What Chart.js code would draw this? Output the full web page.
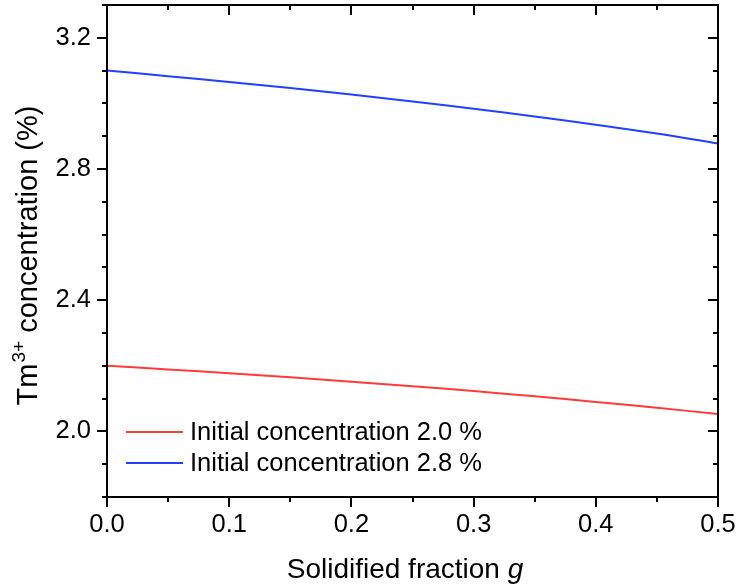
<!DOCTYPE html>
<html>
<head>
<meta charset="utf-8">
<title>Tm3+ concentration vs solidified fraction</title>
<script src="https://cdn.jsdelivr.net/npm/chart.js@4"></script>
<style>
  html, body { margin: 0; padding: 0; background: #ffffff; }
  canvas { display: block; }
</style>
</head>
<body>
<canvas id="chart" width="737" height="585"></canvas>
<script>
// Solidified fraction g
const fraction = [0.00, 0.05, 0.10, 0.15, 0.20, 0.25, 0.30, 0.35, 0.40, 0.45, 0.50];
// Tm3+ concentration (%) along the crystal
const conc20 = [2.200, 2.189, 2.177, 2.165, 2.151, 2.138, 2.123, 2.107, 2.090, 2.072, 2.053];
const conc28 = [3.100, 3.083, 3.065, 3.047, 3.027, 3.006, 2.984, 2.960, 2.935, 2.908, 2.878];
const seriesNames = ['Initial concentration 2.0 %', 'Initial concentration 2.8 %'];
const yTickValues = [2.0, 2.4, 2.8, 3.2];
const xTickValues = [0.0, 0.1, 0.2, 0.3, 0.4, 0.5];

const FONT = '"Liberation Sans", Arial, Helvetica, sans-serif';
const RED = '#ff3b3b';
const BLUE = '#2141ff';

const toPoints = (xs, ys) => xs.map((x, i) => ({ x: x, y: ys[i] }));

// Frame, major/minor ticks on all four sides, axis titles and legend
const decorations = {
  id: 'decorations',
  afterDraw(chart) {
    const ctx = chart.ctx;
    const a = chart.chartArea;
    const xs = chart.scales.x;
    const ys = chart.scales.y;
    ctx.save();
    ctx.strokeStyle = '#000';
    ctx.lineWidth = 2;
    ctx.lineCap = 'butt';

    // x ticks (bottom outward, top inward)
    const xMinorStep = 0.05;
    for (let i = 0; i <= Math.round((xs.max - xs.min) / xMinorStep); i++) {
      const v = xs.min + i * xMinorStep;
      const px = Math.round(xs.getPixelForValue(v));
      const major = i % 2 === 0;
      const len = major ? 10 : 5;
      ctx.beginPath();
      ctx.moveTo(px, a.bottom); ctx.lineTo(px, a.bottom + len);
      ctx.moveTo(px, a.top); ctx.lineTo(px, a.top + len);
      ctx.stroke();
    }
    // y ticks (left outward, right inward)
    const yMinorStep = 0.1;
    for (let i = 0; i <= Math.round((ys.max - ys.min) / yMinorStep); i++) {
      const v = ys.min + i * yMinorStep;
      const py = Math.round(ys.getPixelForValue(v));
      const major = yTickValues.some(t => Math.abs(t - v) < 1e-6);
      const len = major ? 10 : 5;
      ctx.beginPath();
      ctx.moveTo(a.left, py); ctx.lineTo(a.left - len, py);
      ctx.moveTo(a.right, py); ctx.lineTo(a.right - len, py);
      ctx.stroke();
    }
    // frame
    ctx.strokeRect(a.left, a.top, a.right - a.left, a.bottom - a.top);

    // x axis title with italic g
    ctx.fillStyle = '#000';
    ctx.textBaseline = 'alphabetic';
    ctx.textAlign = 'left';
    const xt1 = 'Solidified fraction ';
    const xt2 = 'g';
    ctx.font = '28px ' + FONT;
    const w1 = ctx.measureText(xt1).width;
    ctx.font = 'italic 28px ' + FONT;
    const w2 = ctx.measureText(xt2).width;
    const sx = 405 - (w1 + w2) / 2;
    ctx.font = '28px ' + FONT;
    ctx.fillText(xt1, sx, 578);
    ctx.font = 'italic 28px ' + FONT;
    ctx.fillText(xt2, sx + w1, 578);

    // y axis title with superscript
    ctx.save();
    ctx.translate(37, 256);
    ctx.rotate(-Math.PI / 2);
    const p1 = 'Tm', p2 = '3+', p3 = ' concentration (%)';
    const big = '29px ' + FONT, small = '19px ' + FONT;
    ctx.font = big; const a1 = ctx.measureText(p1).width;
    ctx.font = small; const a2 = ctx.measureText(p2).width;
    ctx.font = big; const a3 = ctx.measureText(p3).width;
    const tx = -(a1 + a2 + a3) / 2;
    ctx.font = big; ctx.fillText(p1, tx, 0);
    ctx.font = small; ctx.fillText(p2, tx + a1 + 1, -12);
    ctx.font = big; ctx.fillText(p3, tx + a1 + a2 + 1, 0);
    ctx.restore();

    // legend
    ctx.font = '25.5px ' + FONT;
    ctx.textBaseline = 'middle';
    chart.data.datasets.forEach((ds, i) => {
      const ly = 432 + i * 31;
      ctx.strokeStyle = ds.borderColor;
      ctx.lineWidth = 2;
      ctx.beginPath();
      ctx.moveTo(126, ly); ctx.lineTo(183, ly);
      ctx.stroke();
      ctx.fillStyle = '#000';
      ctx.fillText(ds.label, 190, ly + 1);
    });
    ctx.restore();
  }
};

new Chart(document.getElementById('chart'), {
  type: 'line',
  data: {
    datasets: [
      { label: seriesNames[0], data: toPoints(fraction, conc20), borderColor: RED, borderWidth: 2, pointRadius: 0, tension: 0.4, fill: false },
      { label: seriesNames[1], data: toPoints(fraction, conc28), borderColor: BLUE, borderWidth: 2, pointRadius: 0, tension: 0.4, fill: false }
    ]
  },
  options: {
    responsive: false,
    animation: false,
    layout: { padding: { top: 5, right: 19, left: 0, bottom: 0 } },
    plugins: { legend: { display: false }, tooltip: { enabled: false } },
    scales: {
      x: {
        type: 'linear',
        min: 0, max: 0.5,
        afterBuildTicks: s => { s.ticks = xTickValues.map(v => ({ value: v })); },
        afterFit: s => { s.height = 88; s.paddingLeft = 0; s.paddingRight = 0; },
        ticks: { color: '#000', font: { family: FONT, size: 25.5 }, padding: 3, maxRotation: 0, callback: v => Number(v).toFixed(1) },
        grid: { drawOnChartArea: false, drawTicks: true, tickLength: 10, color: 'rgba(0,0,0,0)' },
        border: { display: false }
      },
      y: {
        type: 'linear',
        min: 1.8, max: 3.3,
        afterBuildTicks: s => { s.ticks = yTickValues.map(v => ({ value: v })); },
        afterFit: s => { s.width = 107; s.paddingTop = 0; s.paddingBottom = 0; },
        ticks: { color: '#000', font: { family: FONT, size: 25.5 }, padding: 6, callback: v => Number(v).toFixed(1) },
        grid: { drawOnChartArea: false, drawTicks: true, tickLength: 10, color: 'rgba(0,0,0,0)' },
        border: { display: false }
      }
    }
  },
  plugins: [decorations]
});
</script>
</body>
</html>
